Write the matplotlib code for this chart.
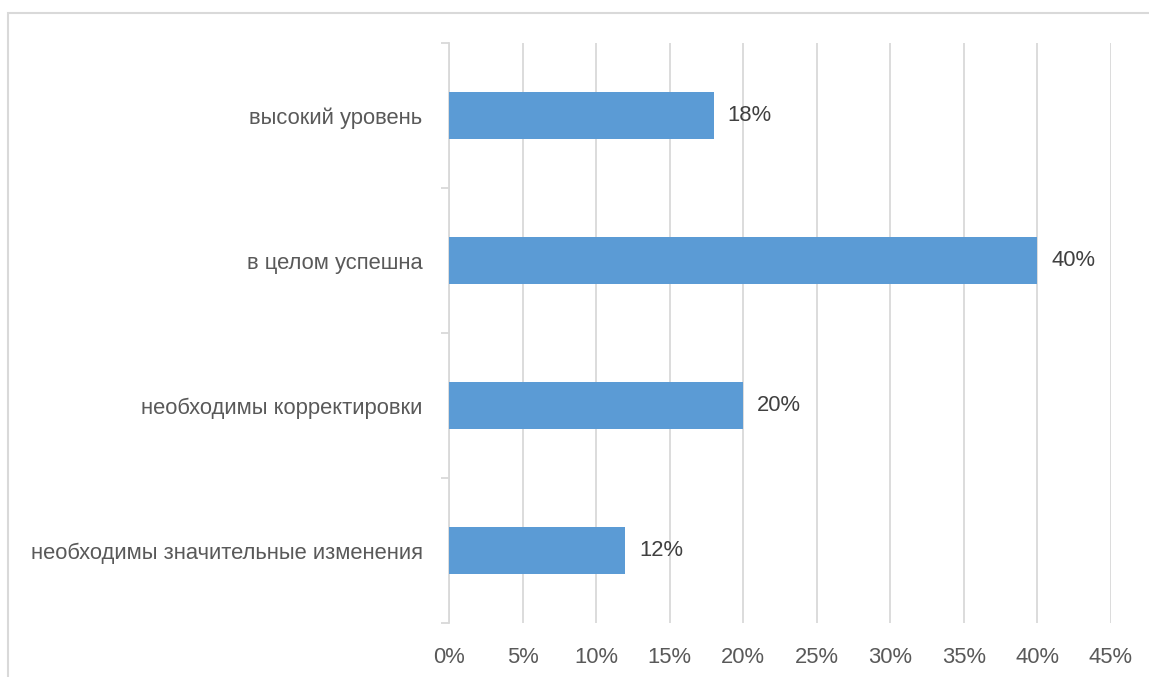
import matplotlib
matplotlib.use("Agg")
import matplotlib.pyplot as plt
from matplotlib.patches import Rectangle

# data, top to bottom as in the chart
categories = [
    "высокий уровень",
    "в целом успешна",
    "необходимы корректировки",
    "необходимы значительные изменения",
]
values = [18, 40, 20, 12]
x_ticks = [0, 5, 10, 15, 20, 25, 30, 35, 40, 45]

W, H = 1149, 677
fig = plt.figure(figsize=(W / 100, H / 100), dpi=100)
plt.rcParams["font.family"] = ["Liberation Sans", "DejaVu Sans"]
FS = 15.8

# light frame round the chart (clipped at the right and bottom in the original)
fig.patches.append(Rectangle((8 / W, -0.1), 1.2, 1 - 13 / H + 0.1,
                             transform=fig.transFigure, fill=False,
                             edgecolor="#d9d9d9", linewidth=1.5))

ax = fig.add_axes([449 / W, 1 - 623 / H, (1110.7 - 449) / W, (623 - 43) / H])

pos = list(range(len(categories)))[::-1]
ax.barh(pos, values, height=0.32, color="#5b9bd5", zorder=3)
for p, v in zip(pos, values):
    ax.text(v + 0.95, p, f"{v}%", va="center", ha="left",
            fontsize=FS, color="#404040")

ax.set_xlim(0, 45)
ax.set_ylim(-0.5, len(categories) - 0.5)
ax.set_xticks(x_ticks)
ax.set_xticklabels([f"{t}%" for t in x_ticks])
ax.set_yticks(pos)
ax.set_yticklabels(categories)
ax.set_yticks([i - 0.5 for i in range(len(categories) + 1)], minor=True)

ax.grid(axis="x", color="#d9d9d9", linewidth=1.3, zorder=0)
for s in ["top", "right", "bottom"]:
    ax.spines[s].set_visible(False)
ax.spines["left"].set_color("#d9d9d9")
ax.spines["left"].set_linewidth(1.3)

ax.tick_params(axis="x", length=0, pad=17, labelsize=FS, labelcolor="#595959")
ax.tick_params(axis="y", which="major", length=0, pad=19, labelsize=FS,
               labelcolor="#595959")
ax.tick_params(axis="y", which="minor", length=6, width=1.3, color="#d9d9d9")

fig.savefig("out.png", dpi=100, facecolor="white")
